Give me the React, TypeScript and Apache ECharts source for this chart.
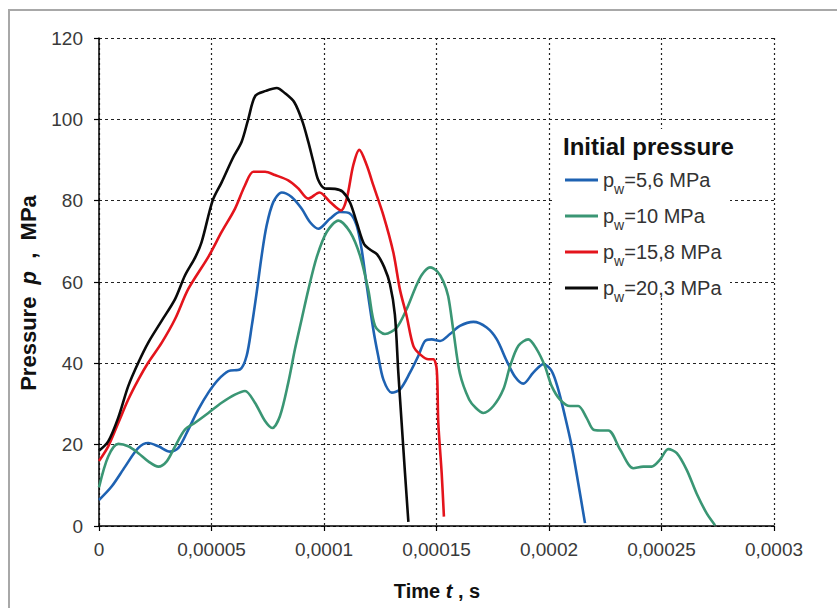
import React, { useEffect, useRef } from 'react';
import * as echarts from 'echarts';

// Time values in microseconds (axis labels are shown in seconds)
const xTickLabels = ['0', '0,00005', '0,0001', '0,00015', '0,0002', '0,00025', '0,0003'];
const yTickLabels = ['0', '20', '40', '60', '80', '100', '120'];
const seriesNames = ['5,6', '10', '15,8', '20,3'];
const seriesColors = ['#1e62b2', '#3a9674', '#e4141c', '#0a0a0a'];

const tBlue = [0, 5.6, 11.6, 17.5, 21.9, 26.4, 31.6, 35.3, 39.7, 44.1, 48.6, 53, 57.5, 62.7, 65.6, 67.9, 70.1, 72.3, 74.5, 77.5, 81.2, 85.6, 90.1, 93.8, 97.5, 102.7, 107.1, 111.6, 114.5, 116.7, 119, 121.9, 124.1, 126.4, 130.1, 133.8, 138.2, 141.9, 144.9, 147.9, 151.6, 156, 160.4, 166.4, 172.3, 176.8, 181.2, 184.9, 188.6, 193, 197.5, 201.2, 204.1, 207.1, 210.1, 213, 216];
const pBlue = [6.4, 9.7, 14.6, 19.2, 20.4, 19.6, 18.3, 19.2, 23.7, 28.6, 32.8, 36, 38.1, 38.5, 41.8, 49.2, 57.5, 66.5, 73.9, 79.7, 82, 80.9, 78, 74.7, 73.1, 75.6, 77.2, 76.8, 73.9, 68.1, 59.1, 48.4, 41.8, 36, 32.8, 33.6, 37.7, 41.8, 45.5, 45.9, 45.5, 47.2, 49.2, 50.2, 48.8, 45.9, 40.6, 36.7, 35, 37.7, 39.8, 38.1, 33.6, 27, 19.6, 10.5, 0.7];

const tGreen = [0, 4.1, 8.6, 13, 17.5, 21.9, 26.4, 30.1, 33.8, 38.2, 42.7, 48.6, 54.5, 60.4, 64.9, 69.3, 73.8, 77, 80.4, 84.1, 87.1, 90.1, 93, 96.7, 101.2, 106.4, 111.6, 116, 119.7, 122.7, 127.1, 132.3, 136.7, 140.4, 143.5, 147.1, 150.5, 153, 155.2, 157.5, 160.4, 164.5, 167.5, 170.8, 175.3, 179.7, 182.7, 186.4, 190.8, 194.5, 198.2, 201.2, 204.9, 209.3, 213, 216.7, 219.7, 222.7, 226.4, 231.6, 237.5, 241.9, 245.6, 249.3, 253, 256.8, 261.2, 265.6, 270.1, 273.8];
const pGreen = [9.5, 17.1, 20.2, 19.6, 17.9, 15.9, 14.6, 15.9, 19.6, 23.7, 25.4, 27.8, 30.3, 32.3, 33.2, 30.3, 25.8, 24.1, 27, 35.2, 43.5, 50.9, 58, 66, 72.3, 75.1, 72.3, 66.5, 58, 49.2, 47.2, 48.8, 53.3, 58.3, 61.8, 63.6, 62.5, 60.2, 56.5, 48, 37.5, 31.1, 29, 27.8, 29.5, 33.6, 39.3, 44.3, 45.9, 43.5, 39.3, 34.4, 31.1, 29.5, 29.5, 26.6, 23.7, 23.5, 23.5, 18.8, 14.2, 14.6, 14.6, 16.3, 18.9, 17.9, 13.8, 8, 3.1, 0.2];

const tRed = [0, 4.1, 8.6, 13, 17.5, 21.9, 27.9, 33.8, 39.7, 48.6, 54.5, 60.4, 64.9, 68.6, 73.8, 78.2, 84.1, 88.6, 93, 98, 102.7, 107.6, 110.1, 113, 115.7, 119, 121.9, 126.4, 130.8, 133.8, 136.7, 139.7, 142.7, 146.4, 148.6, 150.1, 150.8, 152.3, 153.3];
const pRed = [16, 19.6, 25.4, 31.1, 36, 40.2, 45.1, 50.9, 58.3, 66.2, 72.3, 78, 83.8, 87.1, 87.1, 86.3, 85, 83, 80.5, 82, 79.7, 77.6, 80.5, 88.7, 92.5, 88.7, 83.8, 76.4, 67.3, 58, 51.7, 44.3, 42.2, 41, 41, 38.5, 25.4, 13, 2.3];

const tBlack = [0, 4.1, 8.6, 13, 17.5, 21.9, 27.9, 33.8, 38.2, 42.7, 45.6, 50.5, 54.5, 59.5, 63.4, 66.4, 69.5, 74.2, 79, 82.7, 86.8, 90.4, 93, 95.3, 97.5, 100.4, 104.9, 108.3, 111.6, 114.5, 117.8, 120.4, 123.6, 126.8, 129.3, 131.5, 133, 134.5, 136, 137.5];
const pBlack = [18.5, 20.8, 26.7, 34.4, 40.2, 45.1, 50.5, 55.8, 61.6, 66, 69.8, 80, 84.5, 90.5, 94.5, 100.2, 105.8, 107, 107.7, 106.4, 104.2, 99.5, 94.5, 89.5, 85, 83, 82.9, 82.2, 79.5, 74.7, 69.3, 68, 66.8, 63.6, 59.5, 52, 38, 25.4, 13, 1];

const tAll = [tBlue, tGreen, tRed, tBlack];
const pAll = [pBlue, pGreen, pRed, pBlack];

const FONT = "'Liberation Sans', Arial, sans-serif";

export default function App() {
  const ref = useRef<HTMLDivElement>(null);
  useEffect(() => {
    document.body.style.margin = '0';
    const chart = echarts.init(ref.current!, undefined, { renderer: 'svg' });
    const series = seriesNames.map((name, i) => ({
      name,
      type: 'line',
      data: tAll[i].map((t, j) => [t, pAll[i][j]]),
      showSymbol: false,
      symbol: 'none',
      smooth: 0.3,
      z: 3,
      color: seriesColors[i],
      lineStyle: { width: 2.6, color: seriesColors[i] },
    }));
    const option: any = {
      animation: false,
      backgroundColor: '#fff',
      grid: { left: 99, right: 63, top: 38, bottom: 82, containLabel: false },
      xAxis: {
        type: 'value',
        min: 0,
        max: 300,
        interval: 50,
        z: 0,
        axisLine: { show: true, onZero: false, lineStyle: { color: '#000', width: 1.5 } },
        axisTick: { show: true, length: 5, inside: false, lineStyle: { color: '#000', width: 1.2 } },
        axisLabel: {
          formatter: (v: number) => xTickLabels[Math.round(v / 50)],
          fontSize: 19,
          color: '#3a3a3a',
          margin: 14,
          fontFamily: FONT,
        },
        splitLine: { show: true, lineStyle: { type: [2, 3], color: '#222', width: 1.2 } },
      },
      yAxis: {
        type: 'value',
        min: 0,
        max: 120,
        interval: 20,
        z: 0,
        axisLine: { show: true, onZero: false, lineStyle: { color: '#000', width: 1.5 } },
        axisTick: { show: true, length: 5, inside: false, lineStyle: { color: '#000', width: 1.2 } },
        axisLabel: {
          formatter: (v: number) => yTickLabels[Math.round(v / 20)],
          fontSize: 19,
          color: '#3a3a3a',
          margin: 16,
          fontFamily: FONT,
        },
        splitLine: { show: true, lineStyle: { type: [3, 3], color: '#222', width: 1.2 } },
      },
      legend: {
        data: seriesNames,
        orient: 'vertical',
        left: 565,
        top: 168,
        padding: 0,
        itemGap: 8,
        itemWidth: 33,
        itemHeight: 3,
        icon: 'rect',
        z: 5,
        formatter: (name: string) => `{a|p}{b|w}{a|=${name} MPa}`,
        textStyle: {
          fontFamily: FONT,
          rich: {
            a: { fontSize: 20, lineHeight: 24, color: '#333', fontFamily: FONT },
            b: { fontSize: 14, lineHeight: 13, padding: [14, 0, 0, 0], verticalAlign: 'top', color: '#333', fontFamily: FONT },
          },
        },
      },
      graphic: {
        elements: [
          {
            type: 'rect',
            z: 1,
            silent: true,
            shape: { x: 9, y: 10, width: 840, height: 610 },
            style: { fill: 'none', stroke: '#a8a8a8', lineWidth: 2 },
          },
          {
            type: 'rect',
            z: 1,
            silent: true,
            shape: { x: 553, y: 129, width: 177, height: 169 },
            style: { fill: '#fff' },
          },
          {
            type: 'text',
            z: 6,
            x: 563,
            y: 146,
            style: {
              text: 'Initial pressure',
              fontSize: 24,
              fontWeight: 'bold',
              fontFamily: FONT,
              fill: '#111',
              align: 'left',
              verticalAlign: 'middle',
              textAlign: 'left',
              textVerticalAlign: 'middle',
            },
          },
          {
            type: 'text',
            z: 6,
            x: 437,
            y: 591,
            style: {
              text: '{b|Time }{i|t}{b| , s}',
              rich: {
                b: { fontSize: 20, fontWeight: 'bold', fontFamily: FONT, fill: '#111' },
                i: { fontSize: 20, fontWeight: 'bold', fontStyle: 'italic', fontFamily: FONT, fill: '#111' },
              },
              align: 'center',
              verticalAlign: 'middle',
              textAlign: 'center',
              textVerticalAlign: 'middle',
            },
          },
          {
            type: 'text',
            z: 6,
            x: 28,
            y: 293,
            rotation: Math.PI / 2,
            style: {
              text: '{b|Pressure  }{i|p}{b|  ,  MPa}',
              rich: {
                b: { fontSize: 22, fontWeight: 'bold', fontFamily: FONT, fill: '#111' },
                i: { fontSize: 22, fontWeight: 'bold', fontStyle: 'italic', fontFamily: FONT, fill: '#111' },
              },
              align: 'center',
              verticalAlign: 'middle',
              textAlign: 'center',
              textVerticalAlign: 'middle',
            },
          },
        ],
      },
      series,
    };
    chart.setOption(option);
    return () => chart.dispose();
  }, []);
  return <div ref={ref} style={{ width: 837, height: 608 }} />;
}
